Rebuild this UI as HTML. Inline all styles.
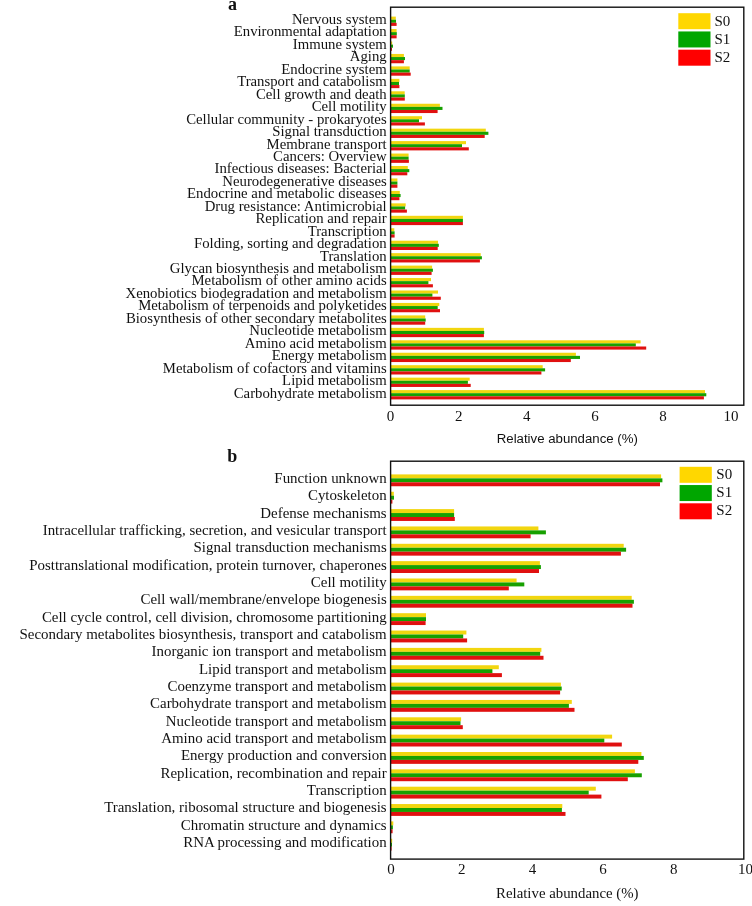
<!DOCTYPE html><html><head><meta charset="utf-8"><style>html,body{margin:0;padding:0;background:#fff;}svg{display:block;will-change:transform;filter:blur(0.3px);}text{font-family:"Liberation Serif","Times New Roman",serif;fill:#111;}</style></head><body>
<svg width="752" height="906" viewBox="0 0 752 906">
<rect width="752" height="906" fill="#fff"/>
<rect x="390.6" y="16.6" width="5.2" height="3.1" fill="#F2D60F"/>
<rect x="390.6" y="19.7" width="5.4" height="3.1" fill="#17A000"/>
<rect x="390.6" y="22.8" width="6" height="3.1" fill="#E01010"/>
<rect x="390.6" y="29.05" width="6" height="3.1" fill="#F2D60F"/>
<rect x="390.6" y="32.15" width="6.2" height="3.1" fill="#17A000"/>
<rect x="390.6" y="35.25" width="6" height="3.1" fill="#E01010"/>
<rect x="390.6" y="41.5" width="1.6" height="3.1" fill="#F2D60F"/>
<rect x="390.6" y="44.6" width="2.4" height="3.1" fill="#17A000"/>
<rect x="390.6" y="47.7" width="1.4" height="3.1" fill="#E01010"/>
<rect x="390.6" y="53.95" width="13.3" height="3.1" fill="#F2D60F"/>
<rect x="390.6" y="57.05" width="14.4" height="3.1" fill="#17A000"/>
<rect x="390.6" y="60.15" width="13.3" height="3.1" fill="#E01010"/>
<rect x="390.6" y="66.4" width="19.1" height="3.1" fill="#F2D60F"/>
<rect x="390.6" y="69.5" width="19.1" height="3.1" fill="#17A000"/>
<rect x="390.6" y="72.6" width="20.1" height="3.1" fill="#E01010"/>
<rect x="390.6" y="78.85" width="8.8" height="3.1" fill="#F2D60F"/>
<rect x="390.6" y="81.95" width="8.4" height="3.1" fill="#17A000"/>
<rect x="390.6" y="85.05" width="8.8" height="3.1" fill="#E01010"/>
<rect x="390.6" y="91.3" width="14.1" height="3.1" fill="#F2D60F"/>
<rect x="390.6" y="94.4" width="14.2" height="3.1" fill="#17A000"/>
<rect x="390.6" y="97.5" width="14.2" height="3.1" fill="#E01010"/>
<rect x="390.6" y="103.75" width="49.3" height="3.1" fill="#F2D60F"/>
<rect x="390.6" y="106.85" width="51.9" height="3.1" fill="#17A000"/>
<rect x="390.6" y="109.95" width="47" height="3.1" fill="#E01010"/>
<rect x="390.6" y="116.2" width="31.4" height="3.1" fill="#F2D60F"/>
<rect x="390.6" y="119.3" width="28.4" height="3.1" fill="#17A000"/>
<rect x="390.6" y="122.4" width="34.3" height="3.1" fill="#E01010"/>
<rect x="390.6" y="128.65" width="95.2" height="3.1" fill="#F2D60F"/>
<rect x="390.6" y="131.75" width="97.8" height="3.1" fill="#17A000"/>
<rect x="390.6" y="134.85" width="94.1" height="3.1" fill="#E01010"/>
<rect x="390.6" y="141.1" width="75.4" height="3.1" fill="#F2D60F"/>
<rect x="390.6" y="144.2" width="71.4" height="3.1" fill="#17A000"/>
<rect x="390.6" y="147.3" width="78.2" height="3.1" fill="#E01010"/>
<rect x="390.6" y="153.55" width="18" height="3.1" fill="#F2D60F"/>
<rect x="390.6" y="156.65" width="18" height="3.1" fill="#17A000"/>
<rect x="390.6" y="159.75" width="18.3" height="3.1" fill="#E01010"/>
<rect x="390.6" y="166" width="17.2" height="3.1" fill="#F2D60F"/>
<rect x="390.6" y="169.1" width="18.7" height="3.1" fill="#17A000"/>
<rect x="390.6" y="172.2" width="16.7" height="3.1" fill="#E01010"/>
<rect x="390.6" y="178.45" width="6.8" height="3.1" fill="#F2D60F"/>
<rect x="390.6" y="181.55" width="6.8" height="3.1" fill="#17A000"/>
<rect x="390.6" y="184.65" width="6.8" height="3.1" fill="#E01010"/>
<rect x="390.6" y="190.9" width="9.2" height="3.1" fill="#F2D60F"/>
<rect x="390.6" y="194" width="10" height="3.1" fill="#17A000"/>
<rect x="390.6" y="197.1" width="8.8" height="3.1" fill="#E01010"/>
<rect x="390.6" y="203.35" width="15.1" height="3.1" fill="#F2D60F"/>
<rect x="390.6" y="206.45" width="14.5" height="3.1" fill="#17A000"/>
<rect x="390.6" y="209.55" width="16.3" height="3.1" fill="#E01010"/>
<rect x="390.6" y="215.8" width="72.3" height="3.1" fill="#F2D60F"/>
<rect x="390.6" y="218.9" width="72.3" height="3.1" fill="#17A000"/>
<rect x="390.6" y="222" width="72.3" height="3.1" fill="#E01010"/>
<rect x="390.6" y="228.25" width="3.7" height="3.1" fill="#F2D60F"/>
<rect x="390.6" y="231.35" width="4" height="3.1" fill="#17A000"/>
<rect x="390.6" y="234.45" width="4" height="3.1" fill="#E01010"/>
<rect x="390.6" y="240.7" width="47.4" height="3.1" fill="#F2D60F"/>
<rect x="390.6" y="243.8" width="48.2" height="3.1" fill="#17A000"/>
<rect x="390.6" y="246.9" width="47.1" height="3.1" fill="#E01010"/>
<rect x="390.6" y="253.15" width="90.1" height="3.1" fill="#F2D60F"/>
<rect x="390.6" y="256.25" width="91.3" height="3.1" fill="#17A000"/>
<rect x="390.6" y="259.35" width="89.3" height="3.1" fill="#E01010"/>
<rect x="390.6" y="265.6" width="41.5" height="3.1" fill="#F2D60F"/>
<rect x="390.6" y="268.7" width="42.3" height="3.1" fill="#17A000"/>
<rect x="390.6" y="271.8" width="41" height="3.1" fill="#E01010"/>
<rect x="390.6" y="278.05" width="40.4" height="3.1" fill="#F2D60F"/>
<rect x="390.6" y="281.15" width="37.8" height="3.1" fill="#17A000"/>
<rect x="390.6" y="284.25" width="42.3" height="3.1" fill="#E01010"/>
<rect x="390.6" y="290.5" width="47.4" height="3.1" fill="#F2D60F"/>
<rect x="390.6" y="293.6" width="41.8" height="3.1" fill="#17A000"/>
<rect x="390.6" y="296.7" width="50.2" height="3.1" fill="#E01010"/>
<rect x="390.6" y="302.95" width="48.7" height="3.1" fill="#F2D60F"/>
<rect x="390.6" y="306.05" width="47.1" height="3.1" fill="#17A000"/>
<rect x="390.6" y="309.15" width="49.4" height="3.1" fill="#E01010"/>
<rect x="390.6" y="315.4" width="34.6" height="3.1" fill="#F2D60F"/>
<rect x="390.6" y="318.5" width="35.1" height="3.1" fill="#17A000"/>
<rect x="390.6" y="321.6" width="34.6" height="3.1" fill="#E01010"/>
<rect x="390.6" y="327.85" width="93.3" height="3.1" fill="#F2D60F"/>
<rect x="390.6" y="330.95" width="93.6" height="3.1" fill="#17A000"/>
<rect x="390.6" y="334.05" width="93.3" height="3.1" fill="#E01010"/>
<rect x="390.6" y="340.3" width="250" height="3.1" fill="#F2D60F"/>
<rect x="390.6" y="343.4" width="245.2" height="3.1" fill="#17A000"/>
<rect x="390.6" y="346.5" width="255.6" height="3.1" fill="#E01010"/>
<rect x="390.6" y="352.75" width="185.3" height="3.1" fill="#F2D60F"/>
<rect x="390.6" y="355.85" width="189.4" height="3.1" fill="#17A000"/>
<rect x="390.6" y="358.95" width="180.2" height="3.1" fill="#E01010"/>
<rect x="390.6" y="365.2" width="152.1" height="3.1" fill="#F2D60F"/>
<rect x="390.6" y="368.3" width="154.5" height="3.1" fill="#17A000"/>
<rect x="390.6" y="371.4" width="150.8" height="3.1" fill="#E01010"/>
<rect x="390.6" y="377.65" width="79.1" height="3.1" fill="#F2D60F"/>
<rect x="390.6" y="380.75" width="77.3" height="3.1" fill="#17A000"/>
<rect x="390.6" y="383.85" width="80.1" height="3.1" fill="#E01010"/>
<rect x="390.6" y="390.1" width="314.4" height="3.1" fill="#F2D60F"/>
<rect x="390.6" y="393.2" width="315.7" height="3.1" fill="#17A000"/>
<rect x="390.6" y="396.3" width="313.3" height="3.1" fill="#E01010"/>
<g font-size="14.77" text-anchor="end">
<text x="386.7" y="24">Nervous system</text>
<text x="386.7" y="36.45">Environmental adaptation</text>
<text x="386.7" y="48.9">Immune system</text>
<text x="386.7" y="61.35">Aging</text>
<text x="386.7" y="73.8">Endocrine system</text>
<text x="386.7" y="86.25">Transport and catabolism</text>
<text x="386.7" y="98.7">Cell growth and death</text>
<text x="386.7" y="111.15">Cell motility</text>
<text x="386.7" y="123.6">Cellular community - prokaryotes</text>
<text x="386.7" y="136.05">Signal transduction</text>
<text x="386.7" y="148.5">Membrane transport</text>
<text x="386.7" y="160.95">Cancers: Overview</text>
<text x="386.7" y="173.4">Infectious diseases: Bacterial</text>
<text x="386.7" y="185.85">Neurodegenerative diseases</text>
<text x="386.7" y="198.3">Endocrine and metabolic diseases</text>
<text x="386.7" y="210.75">Drug resistance: Antimicrobial</text>
<text x="386.7" y="223.2">Replication and repair</text>
<text x="386.7" y="235.65">Transcription</text>
<text x="386.7" y="248.1">Folding, sorting and degradation</text>
<text x="386.7" y="260.55">Translation</text>
<text x="386.7" y="273">Glycan biosynthesis and metabolism</text>
<text x="386.7" y="285.45">Metabolism of other amino acids</text>
<text x="386.7" y="297.9">Xenobiotics biodegradation and metabolism</text>
<text x="386.7" y="310.35">Metabolism of terpenoids and polyketides</text>
<text x="386.7" y="322.8">Biosynthesis of other secondary metabolites</text>
<text x="386.7" y="335.25">Nucleotide metabolism</text>
<text x="386.7" y="347.7">Amino acid metabolism</text>
<text x="386.7" y="360.15">Energy metabolism</text>
<text x="386.7" y="372.6">Metabolism of cofactors and vitamins</text>
<text x="386.7" y="385.05">Lipid metabolism</text>
<text x="386.7" y="397.5">Carbohydrate metabolism</text>
</g>
<rect x="390.6" y="7.2" width="353.2" height="398" fill="none" stroke="#111" stroke-width="1.4"/>
<text x="228" y="9.8" font-size="18" font-weight="bold">a</text>
<g font-size="15" text-anchor="middle">
<text x="390.6" y="420.6">0</text>
<text x="458.7" y="420.6">2</text>
<text x="526.8" y="420.6">4</text>
<text x="594.9" y="420.6">6</text>
<text x="663" y="420.6">8</text>
<text x="731.1" y="420.6">10</text>
</g>
<text x="567.3" y="443.4" font-size="13.22" text-anchor="middle" style="font-family:'Liberation Sans',Arial,sans-serif">Relative abundance (%)</text>
<rect x="678.3" y="13.2" width="32.2" height="16" fill="#FFD700"/>
<text x="714.4" y="25.8" font-size="15">S0</text>
<rect x="678.3" y="31.45" width="32.2" height="16" fill="#00A600"/>
<text x="714.4" y="44.05" font-size="15">S1</text>
<rect x="678.3" y="49.7" width="32.2" height="16" fill="#FF0000"/>
<text x="714.4" y="62.3" font-size="15">S2</text>
<rect x="390.6" y="474.4" width="270.5" height="3.95" fill="#F2D60F"/>
<rect x="390.6" y="478.35" width="271.8" height="3.95" fill="#17A000"/>
<rect x="390.6" y="482.3" width="269.4" height="3.95" fill="#E01010"/>
<rect x="390.6" y="491.75" width="3.2" height="3.95" fill="#F2D60F"/>
<rect x="390.6" y="495.7" width="3.4" height="3.95" fill="#17A000"/>
<rect x="390.6" y="499.65" width="1.8" height="3.95" fill="#E01010"/>
<rect x="390.6" y="509.1" width="63.5" height="3.95" fill="#F2D60F"/>
<rect x="390.6" y="513.05" width="63.5" height="3.95" fill="#17A000"/>
<rect x="390.6" y="517" width="64.2" height="3.95" fill="#E01010"/>
<rect x="390.6" y="526.45" width="147.8" height="3.95" fill="#F2D60F"/>
<rect x="390.6" y="530.4" width="155.3" height="3.95" fill="#17A000"/>
<rect x="390.6" y="534.35" width="140" height="3.95" fill="#E01010"/>
<rect x="390.6" y="543.8" width="233.1" height="3.95" fill="#F2D60F"/>
<rect x="390.6" y="547.75" width="235.5" height="3.95" fill="#17A000"/>
<rect x="390.6" y="551.7" width="230.3" height="3.95" fill="#E01010"/>
<rect x="390.6" y="561.15" width="149.3" height="3.95" fill="#F2D60F"/>
<rect x="390.6" y="565.1" width="150.3" height="3.95" fill="#17A000"/>
<rect x="390.6" y="569.05" width="148.4" height="3.95" fill="#E01010"/>
<rect x="390.6" y="578.5" width="126" height="3.95" fill="#F2D60F"/>
<rect x="390.6" y="582.45" width="133.7" height="3.95" fill="#17A000"/>
<rect x="390.6" y="586.4" width="118.2" height="3.95" fill="#E01010"/>
<rect x="390.6" y="595.85" width="241.1" height="3.95" fill="#F2D60F"/>
<rect x="390.6" y="599.8" width="243.3" height="3.95" fill="#17A000"/>
<rect x="390.6" y="603.75" width="241.9" height="3.95" fill="#E01010"/>
<rect x="390.6" y="613.2" width="35.4" height="3.95" fill="#F2D60F"/>
<rect x="390.6" y="617.15" width="35.4" height="3.95" fill="#17A000"/>
<rect x="390.6" y="621.1" width="35" height="3.95" fill="#E01010"/>
<rect x="390.6" y="630.55" width="75.8" height="3.95" fill="#F2D60F"/>
<rect x="390.6" y="634.5" width="72.6" height="3.95" fill="#17A000"/>
<rect x="390.6" y="638.45" width="76.5" height="3.95" fill="#E01010"/>
<rect x="390.6" y="647.9" width="150.8" height="3.95" fill="#F2D60F"/>
<rect x="390.6" y="651.85" width="149.6" height="3.95" fill="#17A000"/>
<rect x="390.6" y="655.8" width="152.9" height="3.95" fill="#E01010"/>
<rect x="390.6" y="665.25" width="108.2" height="3.95" fill="#F2D60F"/>
<rect x="390.6" y="669.2" width="101.8" height="3.95" fill="#17A000"/>
<rect x="390.6" y="673.15" width="111.3" height="3.95" fill="#E01010"/>
<rect x="390.6" y="682.6" width="170.3" height="3.95" fill="#F2D60F"/>
<rect x="390.6" y="686.55" width="171.1" height="3.95" fill="#17A000"/>
<rect x="390.6" y="690.5" width="169.5" height="3.95" fill="#E01010"/>
<rect x="390.6" y="699.95" width="181.2" height="3.95" fill="#F2D60F"/>
<rect x="390.6" y="703.9" width="178.3" height="3.95" fill="#17A000"/>
<rect x="390.6" y="707.85" width="183.9" height="3.95" fill="#E01010"/>
<rect x="390.6" y="717.3" width="70.5" height="3.95" fill="#F2D60F"/>
<rect x="390.6" y="721.25" width="69.9" height="3.95" fill="#17A000"/>
<rect x="390.6" y="725.2" width="72.2" height="3.95" fill="#E01010"/>
<rect x="390.6" y="734.65" width="221.5" height="3.95" fill="#F2D60F"/>
<rect x="390.6" y="738.6" width="213.7" height="3.95" fill="#17A000"/>
<rect x="390.6" y="742.55" width="231.2" height="3.95" fill="#E01010"/>
<rect x="390.6" y="752" width="250.8" height="3.95" fill="#F2D60F"/>
<rect x="390.6" y="755.95" width="253.2" height="3.95" fill="#17A000"/>
<rect x="390.6" y="759.9" width="247.7" height="3.95" fill="#E01010"/>
<rect x="390.6" y="769.35" width="244.3" height="3.95" fill="#F2D60F"/>
<rect x="390.6" y="773.3" width="251.2" height="3.95" fill="#17A000"/>
<rect x="390.6" y="777.25" width="237.2" height="3.95" fill="#E01010"/>
<rect x="390.6" y="786.7" width="205.2" height="3.95" fill="#F2D60F"/>
<rect x="390.6" y="790.65" width="198.1" height="3.95" fill="#17A000"/>
<rect x="390.6" y="794.6" width="210.8" height="3.95" fill="#E01010"/>
<rect x="390.6" y="804.05" width="171.7" height="3.95" fill="#F2D60F"/>
<rect x="390.6" y="808" width="171.3" height="3.95" fill="#17A000"/>
<rect x="390.6" y="811.95" width="174.9" height="3.95" fill="#E01010"/>
<rect x="390.6" y="821.4" width="2.7" height="3.95" fill="#F2D60F"/>
<rect x="390.6" y="825.35" width="2.3" height="3.95" fill="#17A000"/>
<rect x="390.6" y="829.3" width="2" height="3.95" fill="#E01010"/>
<rect x="390.6" y="838.75" width="1.6" height="3.95" fill="#F2D60F"/>
<rect x="390.6" y="842.7" width="1.4" height="3.95" fill="#17A000"/>
<rect x="390.6" y="846.65" width="1" height="3.95" fill="#E01010"/>
<g font-size="14.93" text-anchor="end">
<text x="386.7" y="482.8">Function unknown</text>
<text x="386.7" y="500.15">Cytoskeleton</text>
<text x="386.7" y="517.5">Defense mechanisms</text>
<text x="386.7" y="534.85">Intracellular trafficking, secretion, and vesicular transport</text>
<text x="386.7" y="552.2">Signal transduction mechanisms</text>
<text x="386.7" y="569.55">Posttranslational modification, protein turnover, chaperones</text>
<text x="386.7" y="586.9">Cell motility</text>
<text x="386.7" y="604.25">Cell wall/membrane/envelope biogenesis</text>
<text x="386.7" y="621.6">Cell cycle control, cell division, chromosome partitioning</text>
<text x="386.7" y="638.95">Secondary metabolites biosynthesis, transport and catabolism</text>
<text x="386.7" y="656.3">Inorganic ion transport and metabolism</text>
<text x="386.7" y="673.65">Lipid transport and metabolism</text>
<text x="386.7" y="691">Coenzyme transport and metabolism</text>
<text x="386.7" y="708.35">Carbohydrate transport and metabolism</text>
<text x="386.7" y="725.7">Nucleotide transport and metabolism</text>
<text x="386.7" y="743.05">Amino acid transport and metabolism</text>
<text x="386.7" y="760.4">Energy production and conversion</text>
<text x="386.7" y="777.75">Replication, recombination and repair</text>
<text x="386.7" y="795.1">Transcription</text>
<text x="386.7" y="812.45">Translation, ribosomal structure and biogenesis</text>
<text x="386.7" y="829.8">Chromatin structure and dynamics</text>
<text x="386.7" y="847.15">RNA processing and modification</text>
</g>
<rect x="390.6" y="461.2" width="353.2" height="397.9" fill="none" stroke="#111" stroke-width="1.4"/>
<text x="227.3" y="462.1" font-size="18" font-weight="bold">b</text>
<g font-size="15" text-anchor="middle">
<text x="391.1" y="874.2">0</text>
<text x="461.74" y="874.2">2</text>
<text x="532.38" y="874.2">4</text>
<text x="603.02" y="874.2">6</text>
<text x="673.66" y="874.2">8</text>
<text x="745.6" y="874.2">10</text>
</g>
<text x="567.3" y="897.7" font-size="14.83" text-anchor="middle">Relative abundance (%)</text>
<rect x="679.6" y="466.8" width="32.2" height="16" fill="#FFD700"/>
<text x="716.3" y="478.8" font-size="15">S0</text>
<rect x="679.6" y="485.05" width="32.2" height="16" fill="#00A600"/>
<text x="716.3" y="497.05" font-size="15">S1</text>
<rect x="679.6" y="503.3" width="32.2" height="16" fill="#FF0000"/>
<text x="716.3" y="515.3" font-size="15">S2</text>
</svg></body></html>
